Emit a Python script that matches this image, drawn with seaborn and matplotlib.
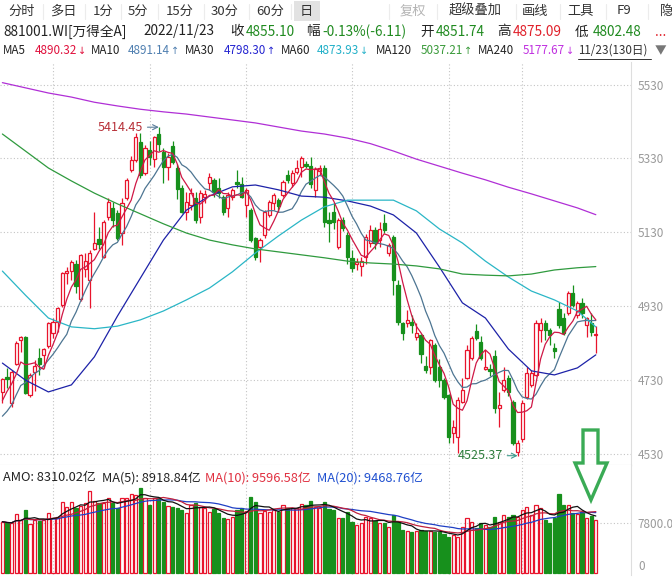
import numpy as np
import pandas as pd
import matplotlib
matplotlib.use("Agg")
import matplotlib.pyplot as plt
import seaborn as sns
from matplotlib.patches import Polygon, Rectangle
from matplotlib.lines import Line2D

# ---------------- data ----------------
opens = [4698, 4738, 4668, 4774, 4839, 4847, 4689, 4752, 4790, 4797,
         4821, 4858, 4888, 4932, 5020, 5026, 5044, 4950, 5031, 5000,
         5085, 5112, 5063, 5171, 5196, 5182, 5128, 5223, 5299, 5326,
         5375, 5290, 5353, 5328, 5396, 5347, 5307, 5364, 5304, 5250,
         5185, 5204, 5223, 5171, 5225, 5264, 5272, 5250, 5226, 5196,
         5226, 5267, 5261, 5204, 5190, 5114, 5090, 5123, 5176, 5209,
         5217, 5231, 5285, 5264, 5293, 5307, 5315, 5310, 5244, 5296,
         5304, 5163, 5185, 5090, 5163, 5123, 5060, 5045, 5039, 5063,
         5101, 5136, 5109, 5155, 5074, 5117, 4987, 4885, 4885, 4888,
         4847, 4852, 4768, 4765, 4825, 4765, 4730, 4689, 4587, 4576,
         4671, 4736, 4790, 4863, 4833, 4761, 4760, 4796, 4655, 4703,
         4736, 4671, 4535, 4570, 4684, 4717, 4744, 4866, 4885, 4866,
         4818, 4922, 4898, 4912, 4966, 4906, 4939, 4880, 4885, 4851.74]
highs = [4736, 4762, 4757, 4835, 4850, 4850, 4749, 4785, 4818, 4818,
         4888, 4899, 4929, 5023, 5036, 5055, 5055, 5072, 5074, 5082,
         5185, 5145, 5163, 5223, 5212, 5190, 5223, 5277, 5336, 5399,
         5399, 5366, 5377, 5391, 5414.45, 5358, 5345, 5377, 5315, 5258,
         5239, 5250, 5239, 5244, 5244, 5290, 5277, 5277, 5231, 5239,
         5250, 5299, 5280, 5250, 5196, 5117, 5114, 5190, 5217, 5236,
         5223, 5272, 5299, 5299, 5326, 5336, 5323, 5334, 5307, 5312,
         5312, 5185, 5209, 5168, 5171, 5131, 5082, 5060, 5063, 5125,
         5150, 5145, 5158, 5179, 5101, 5123, 5001, 4888, 4920, 4907,
         4885, 4855, 4796, 4842, 4830, 4787, 4736, 4692, 4622, 4684,
         4736, 4826, 4850, 4882, 4850, 4812, 4774, 4812, 4698, 4766,
         4744, 4676, 4568, 4676, 4766, 4758, 4893, 4899, 4893, 4872,
         4830, 4940, 4912, 4971, 4987, 4944, 4952, 4901, 4912, 4875.09]
lows = [4668, 4709, 4657, 4772, 4806, 4692, 4684, 4700, 4744, 4763,
        4818, 4845, 4860, 4929, 4990, 5001, 4966, 4945, 5009, 4925,
        5082, 5085, 5060, 5163, 5144, 5109, 5095, 5217, 5293, 5320,
        5277, 5285, 5312, 5307, 5350, 5264, 5272, 5315, 5220, 5182,
        5163, 5190, 5155, 5155, 5209, 5244, 5226, 5223, 5177, 5171,
        5217, 5250, 5223, 5171, 5103, 5055, 5050, 5114, 5171, 5190,
        5185, 5226, 5264, 5253, 5288, 5280, 5304, 5250, 5226, 5285,
        5144, 5103, 5139, 5085, 5133, 5044, 5022, 5028, 5011, 5044,
        5090, 5085, 5090, 5128, 5066, 4960, 4880, 4839, 4874, 4858,
        4839, 4777, 4750, 4747, 4725, 4710, 4679, 4560, 4560, 4532,
        4668, 4733, 4785, 4839, 4785, 4758, 4740, 4641, 4603, 4698,
        4687, 4555, 4525.37, 4562, 4679, 4712, 4741, 4833, 4839, 4826,
        4790, 4872, 4852, 4907, 4928, 4898, 4898, 4847, 4850, 4802.48]
closes = [4733, 4733, 4752, 4830, 4847, 4695, 4744, 4768, 4774, 4815,
          4885, 4888, 4926, 5020, 5025, 5050, 4985, 5068, 5052, 5074,
          5101, 5098, 5158, 5212, 5163, 5115, 5209, 5272, 5326, 5388,
          5285, 5358, 5334, 5388, 5369, 5307, 5334, 5320, 5247, 5185,
          5212, 5236, 5163, 5236, 5235, 5280, 5239, 5236, 5185, 5231,
          5244, 5262, 5226, 5244, 5109, 5063, 5109, 5185, 5212, 5231,
          5201, 5266, 5272, 5290, 5304, 5331, 5310, 5261, 5301, 5304,
          5158, 5155, 5158, 5163, 5141, 5063, 5033, 5050, 5052, 5117,
          5136, 5101, 5139, 5136, 5095, 5001, 4888, 4858, 4893, 4880,
          4858, 4800, 4758, 4839, 4730, 4730, 4684, 4576, 4603, 4676,
          4703, 4812, 4845, 4845, 4790, 4766, 4755, 4655, 4663, 4730,
          4698, 4560, 4560, 4668, 4749, 4749, 4885, 4885, 4866, 4852,
          4810, 4880, 4858, 4966, 4934, 4939, 4912, 4898, 4861.21, 4855.10]
prior_closes = [4600, 4580, 4560, 4590, 4620, 4610, 4650, 4700, 4680]

volumes = [8060, 7798, 7798, 9211, 8322, 9891, 7693, 8322, 8217, 8322,
           9368, 8583, 8845, 11200, 10415, 11200, 10153, 10519, 10938, 12874,
           11304, 10938, 10938, 11723, 10938, 10153, 11723, 11723, 12351, 12246,
           13398, 11723, 10676, 11723, 11828, 11200, 10572, 10415, 10258, 9891,
           9368, 10676, 10938, 10415, 10153, 9630, 10048, 9368, 8688, 8426,
           8845, 9891, 10258, 9735, 11985, 11095, 9368, 9735, 9630, 9891,
           9630, 10676, 10258, 10153, 10153, 10781, 10676, 11304, 10415, 10258,
           11200, 10048, 9891, 8583, 8583, 9630, 8060, 7537, 7798, 8845,
           8583, 8217, 7798, 7798, 7275, 9106, 8060, 6752, 6595, 6490,
           6595, 6752, 6595, 6595, 6490, 6386, 6072, 5705, 5967, 5705,
           7275, 8583, 8060, 7013, 7798, 7537, 7275, 8845, 8060, 9106,
           8845, 9106, 8845, 9891, 10415, 9106, 10676, 10153, 8322, 7798,
           8583, 12351, 10676, 10676, 9368, 9211, 9630, 8583, 9002, 8310.02]

ma_idx = [0, 5, 10, 15, 20, 25, 30, 35, 40, 45, 50, 55, 60, 65, 70, 75,
          80, 85, 90, 95, 100, 105, 110, 115, 120, 125, 129]
ma30 = [4776, 4730, 4698, 4717, 4793, 4903, 5006, 5109, 5190, 5228, 5253, 5258,
        5245, 5228, 5225, 5215, 5201, 5177, 5128, 5036, 4939, 4898, 4814, 4755,
        4744, 4763, 4798.30]
ma60 = [5025, 4960, 4898, 4874, 4869, 4876, 4893, 4917, 4947, 4979, 5023, 5074,
        5120, 5163, 5199, 5217, 5217, 5217, 5188, 5139, 5101, 5052, 5009, 4971,
        4947, 4917, 4873.93]
ma120 = [5396, 5350, 5304, 5269, 5236, 5207, 5180, 5153, 5128, 5109, 5096, 5085,
         5077, 5069, 5061, 5052, 5047, 5044, 5039, 5031, 5017, 5014, 5012, 5017,
         5028, 5034, 5037.21]
ma240 = [5535, 5521, 5507, 5496, 5482, 5472, 5463, 5456, 5450, 5442, 5434, 5426,
         5415, 5404, 5396, 5385, 5370, 5350, 5328, 5309, 5290, 5272, 5252, 5234,
         5215, 5196, 5177.67]

price_ticks = [4530, 4730, 4930, 5130, 5330, 5530]
vol_ticks = [0, 7800]
month_start_idx = [11, 32, 53, 76, 97, 113]
high_label = "5414.45"
low_label = "4525.37"

toolbar_items = ["分时", "多日", "1分", "5分", "15分", "30分", "60分", "日",
                 "复权", "超级叠加", "画线", "工具", "F9", "隐"]
toolbar_x = [8, 50, 93, 128, 166, 211, 256, 300, 400, 449, 522, 567, 617, 660]

# ---------------- style ----------------
sns.set_style("white")
plt.rcParams['font.family'] = ['Noto Sans CJK SC', 'DejaVu Sans']
plt.rcParams['axes.unicode_minus'] = False

RED = '#e8142c'
GREEN = '#17901c'
GRID = '#c4c4c4'

W, H = 672, 577
fig = plt.figure(figsize=(W / 100, H / 100), dpi=100)
fig.patch.set_facecolor('white')


def fx(x):
    return x / W


def fy(y):
    return 1 - y / H


ax = fig.add_axes([0, fy(465), fx(631), (465 - 62) / H])
axv = fig.add_axes([0, fy(575), fx(631), (575 - 465) / H])

n = len(closes)
idx = np.arange(n)
o = np.array(opens, float)
c = np.array(closes, float)
hi = np.array(highs, float)
lo = np.array(lows, float)
up = c >= o

# grid
for a in (ax, axv):
    for m in month_start_idx:
        a.axvline(m, color=GRID, lw=0.8, ls=(0, (1, 2)), zorder=0)
for t in price_ticks:
    ax.axhline(t, color=GRID, lw=0.8, ls=(0, (1, 2)), zorder=0)
axv.axhline(7800, color=GRID, lw=0.8, ls=(0, (1, 2)), zorder=0)

# candles
edge = [RED if u else GREEN for u in up]
ax.vlines(idx, lo, hi, colors=edge, linewidth=0.9, zorder=2)
body_h = np.maximum(np.abs(c - o), 2.0)
ax.bar(idx, body_h, bottom=np.minimum(o, c), width=0.66,
       color=[(1, 1, 1, 1) if u else GREEN for u in up],
       edgecolor=edge, linewidth=0.9, zorder=3)

# moving averages
s = pd.Series(prior_closes + closes, dtype=float)
k = len(prior_closes)
ma5 = s.rolling(5).mean().values[k:]
ma10 = s.rolling(10).mean().values[k:]

lw = 0.9
sns.lineplot(x=idx, y=ma10, ax=ax, color='#4d7592', lw=lw, estimator=None, sort=False, legend=False, zorder=4)
sns.lineplot(x=idx, y=ma5, ax=ax, color='#cf1846', lw=lw, estimator=None, sort=False, legend=False, zorder=5)
sns.lineplot(x=ma_idx, y=ma30, ax=ax, color='#1d22a8', lw=lw, estimator=None, sort=False, legend=False, zorder=4)
sns.lineplot(x=ma_idx, y=ma60, ax=ax, color='#2ab6c6', lw=lw, estimator=None, sort=False, legend=False, zorder=4)
sns.lineplot(x=ma_idx, y=ma120, ax=ax, color='#2f9a3e', lw=lw, estimator=None, sort=False, legend=False, zorder=4)
sns.lineplot(x=ma_idx, y=ma240, ax=ax, color='#b02fd6', lw=lw, estimator=None, sort=False, legend=False, zorder=4)

# high / low annotations
i_hi = int(np.argmax(hi))
i_lo = int(np.argmin(lo))
ax.annotate(high_label, xy=(i_hi, hi[i_hi]), xytext=(-16, 0), textcoords='offset pixels',
            ha='right', va='center', fontsize=9, color='#b8323a',
            arrowprops=dict(arrowstyle='->', color='#5a7d9a', lw=0.8, shrinkA=1, shrinkB=0), zorder=6)
ax.annotate(low_label, xy=(i_lo, lo[i_lo]), xytext=(-15, 0), textcoords='offset pixels',
            ha='right', va='center', fontsize=9, color='#2e7d3c',
            arrowprops=dict(arrowstyle='->', color='#3c9a8c', lw=0.8, shrinkA=1, shrinkB=0), zorder=6)

ax.set_xlim(-0.52, 136.65)
ax.set_ylim(4500.2, 5590.9)
ax.set_xticks([])
ax.yaxis.tick_right()
ax.set_yticks(price_ticks)
ax.set_yticklabels([str(t) for t in price_ticks])
ax.tick_params(axis='y', length=0, pad=5, labelsize=8.5, labelcolor='#9a9a9a')
for sp in ('top', 'left'):
    ax.spines[sp].set_visible(False)
ax.spines['right'].set_color('#dedede')
ax.spines['right'].set_linewidth(0.8)
ax.spines['bottom'].set_color('#d4d4d4')
ax.spines['bottom'].set_linewidth(0.8)

# volume panel
v = np.array(volumes, float)
axv.bar(idx, v, width=0.66, color=[(0, 0, 0, 0) if u else GREEN for u in up],
        edgecolor=edge, linewidth=0.9, zorder=3)
vs = pd.Series(v)
sns.lineplot(x=idx, y=vs.rolling(20, min_periods=1).mean().values, ax=axv, color='#1f3fc4', lw=lw,
             estimator=None, sort=False, legend=False, zorder=4)
sns.lineplot(x=idx, y=vs.rolling(10, min_periods=1).mean().values, ax=axv, color='#c0203c', lw=lw,
             estimator=None, sort=False, legend=False, zorder=4)
sns.lineplot(x=idx, y=vs.rolling(5, min_periods=1).mean().values, ax=axv, color='#111111', lw=lw,
             estimator=None, sort=False, legend=False, zorder=5)
axv.set_xlim(-0.52, 136.65)
axv.set_ylim(-314, 16956)
axv.set_xticks([])
axv.yaxis.tick_right()
axv.set_yticks(vol_ticks)
axv.set_yticklabels(['0', '7800.0'])
axv.tick_params(axis='y', length=0, pad=5, labelsize=8.5, labelcolor='#9a9a9a')
axv.get_yticklabels()[0].set_va('bottom')
for sp in ('top', 'left', 'bottom'):
    axv.spines[sp].set_visible(False)
axv.spines['right'].set_color('#dedede')
axv.spines['right'].set_linewidth(0.8)
axv.set_ylabel('')
ax.set_ylabel('')

renderer = fig.canvas.get_renderer()


# ---------------- header texts ----------------
def put(x, y, s, color='#222222', size=9.5, **kw):
    return fig.text(fx(x), fy(y), s, ha='left', va='center', fontsize=size, color=color, **kw)


# toolbar
fig.add_artist(Rectangle((fx(294), fy(21)), fx(26), 20 / H, transform=fig.transFigure,
                         facecolor='#e2e2e2', edgecolor='none'))
for sx in [43, 85, 121, 158, 204, 249, 291, 389, 437, 516, 560, 606, 648]:
    fig.add_artist(Line2D([fx(sx), fx(sx)], [fy(4), fy(19)], transform=fig.transFigure,
                          color='#ececec', lw=0.8))
for s_, x_ in zip(toolbar_items, toolbar_x):
    col = '#b4b4b4' if s_ == "复权" else '#333333'
    put(x_, 11, s_, col, 9.5)

GT = '#1f8a1f'
RT = '#e0202a'
row2 = [(3, "881001.WI[万得全A]", '#222222'), (143, "2022/11/23", '#222222'),
        (230, "收", '#222222'), (246, "4855.10", GT), (306, "幅", '#222222'),
        (322, "-0.13%(-6.11)", GT), (420, "开", '#222222'), (436, "4851.74", GT),
        (497, "高", '#222222'), (513, "4875.09", RT), (575, "低", '#222222'),
        (593, "4802.48", GT), (655, "...", RT)]
for x_, s_, c_ in row2:
    put(x_, 31.5, s_, c_, 9.8)

# MA legend row: (name x, name, value x, value, arrow, colour)
row3 = [(3, "MA5", 35, "4890.32", "↓", '#e0103c'),
        (91, "MA10", 128, "4891.14", "↑", '#4f7fb0'),
        (185, "MA30", 224, "4798.30", "↑", '#2424d0'),
        (281, "MA60", 317, "4873.93", "↓", '#22b0c8'),
        (376, "MA120", 421, "5037.21", "↑", '#3a9a3a'),
        (478, "MA240", 523, "5177.67", "↓", '#c030e0')]
for nx, nm, vx, val, arr, col in row3:
    put(nx, 50.5, nm, '#222222', 8.4)
    t = put(vx, 50.5, val, col, 8.4)
    ext = t.get_window_extent(renderer=renderer)
    put(ext.x1 + 1, 50.5, arr, col, 7.0, family='DejaVu Sans')
put(578, 50.5, "11/23(130日)", '#333333', 8.4)
put(655, 50.5, "▼", '#777777', 8.4)
fig.add_artist(Line2D([fx(578), fx(651)], [fy(58.5), fy(58.5)], transform=fig.transFigure,
                      color='#333333', lw=0.7))

amo = [(3, "AMO: 8310.02亿", '#222222'), (102, "MA(5): 8918.84亿", '#222222'),
       (205, "MA(10): 9596.58亿", '#e03040'), (317, "MA(20): 9468.76亿", '#2050d0')]
for x_, s_, c_ in amo:
    put(x_, 478, s_, c_, 9.2)

# green hint arrow
pts = [(583, 430), (598, 430), (598, 463), (607, 463), (591, 500), (575, 463), (583, 463)]
fig.add_artist(Polygon([(fx(px), fy(py)) for px, py in pts], closed=True, transform=fig.transFigure,
                       facecolor='none', edgecolor='#3aab55', lw=2.4, joinstyle='miter'))

fig.savefig('out.png', dpi=100)
